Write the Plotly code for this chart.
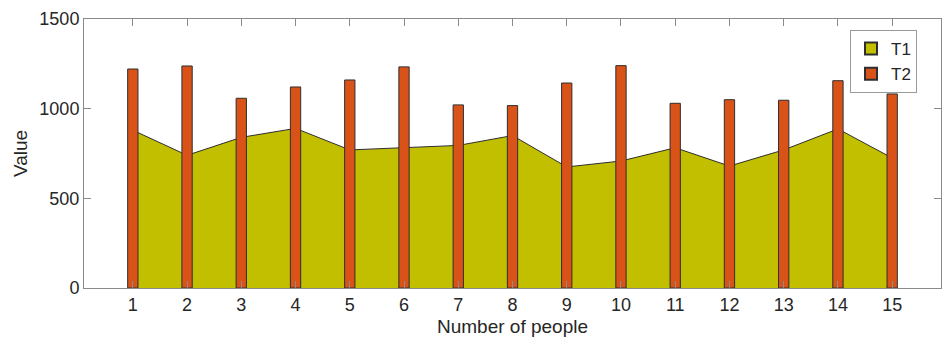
import plotly.graph_objects as go

people = list(range(1, 16))
t1 = [880, 740, 840, 890, 770, 783, 795, 850, 675, 708, 782, 680, 770, 887, 725]
t2 = [1221, 1238, 1058, 1121, 1160, 1233, 1021, 1017, 1143, 1240, 1030, 1050, 1047, 1156, 1082]

area_color = "#C2BE00"
bar_color = "#D95319"
edge = "#2e2e2e"

fig = go.Figure()
# area (behind)
fig.add_trace(go.Scatter(
    x=people, y=t1, name="T1", mode="lines", fill="tozeroy",
    fillcolor=area_color, line=dict(color=edge, width=1), showlegend=False,
))
# bars on overlaying axes so they are drawn above the area
fig.add_trace(go.Bar(
    x=people, y=t2, name="T2", width=0.19, xaxis="x2", yaxis="y2",
    marker=dict(color=bar_color, line=dict(color=edge, width=1)), showlegend=False,
))
# legend entries as rectangles
fig.add_trace(go.Bar(x=[None], y=[None], name="T1",
                     marker=dict(color=area_color, line=dict(color=edge, width=1))))
fig.add_trace(go.Bar(x=[None], y=[None], name="T2",
                     marker=dict(color=bar_color, line=dict(color=edge, width=1))))

fam = "Liberation Sans, Arial, sans-serif"
tick_font = dict(family=fam, size=18, color="#262626")
title_font = dict(family=fam, size=19, color="#262626")
common = dict(ticks="inside", ticklen=7, tickcolor="#8a8a8a",
              showline=True, linecolor="#8a8a8a", linewidth=1, mirror="ticks",
              showgrid=False, zeroline=False, automargin=False, tickfont=tick_font)
fig.update_layout(
    width=944, height=345,
    margin=dict(l=84, r=3, t=19, b=57),
    paper_bgcolor="white", plot_bgcolor="white",
    font=tick_font,
    showlegend=True,
    legend=dict(
        x=0.972, y=0.959, xanchor="right", yanchor="top",
        bgcolor="white", bordercolor="#9a9a9a", borderwidth=1,
        font=dict(family=fam, size=17, color="#262626"),
        tracegroupgap=0, itemsizing="constant",
    ),
    xaxis=dict(range=[0.1, 15.9], tickmode="array", tickvals=people,
               ticktext=[str(p) for p in people],
               title=dict(text="Number of people", standoff=6, font=title_font), **common),
    yaxis=dict(range=[0, 1500], tickmode="array", tickvals=[0, 500, 1000, 1500],
               title=dict(text="Value", standoff=6, font=title_font), **common),
    xaxis2=dict(range=[0.1, 15.9], overlaying="x", visible=False),
    yaxis2=dict(range=[0, 1500], overlaying="y", visible=False),
)

fig.write_html("out.html", config={"displayModeBar": False},
               post_script="document.body.style.margin='0';document.body.style.overflow='hidden';")
